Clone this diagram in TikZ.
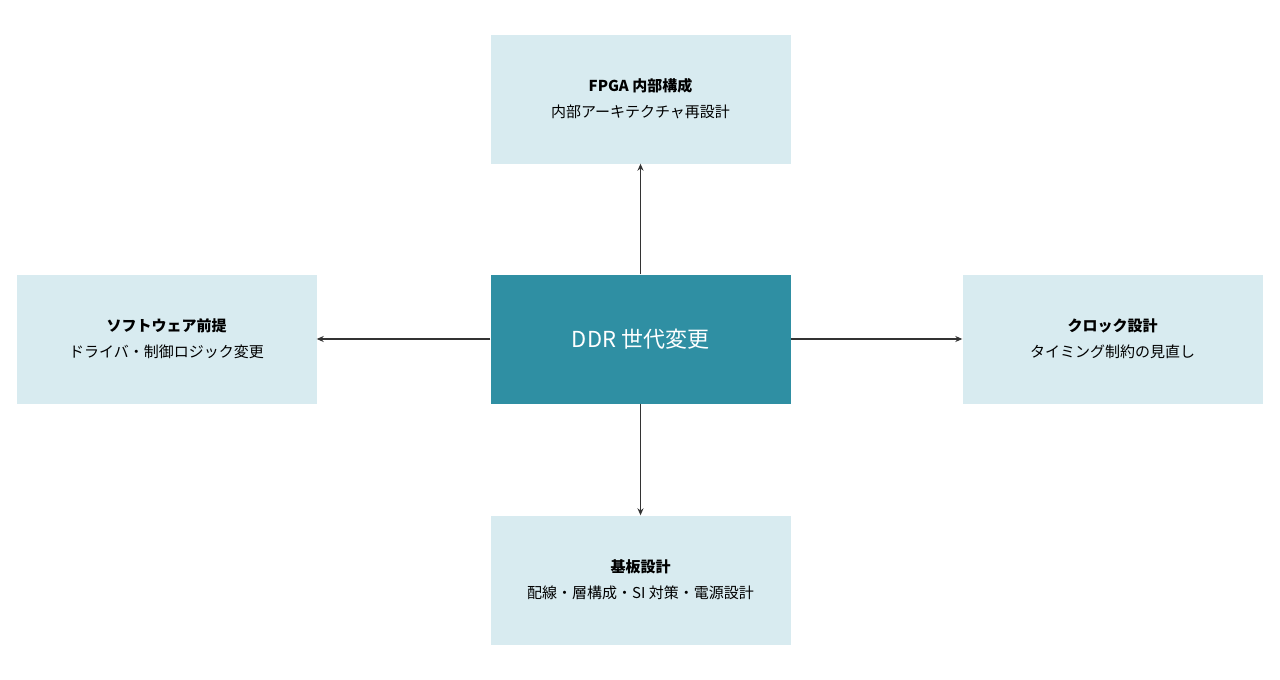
\documentclass[tikz,border=0pt]{standalone}
\usepackage{fontspec}
\setmainfont{Noto Sans CJK JP}
\usetikzlibrary{arrows.meta}
\definecolor{lightbox}{HTML}{D8EBF0}
\definecolor{mainbox}{HTML}{2F8FA3}
\definecolor{arrowc}{HTML}{333333}
\tikzset{
  x=1pt,y=-1pt,
  sub/.style={fill=lightbox,minimum width=300pt,minimum height=129pt,inner sep=0pt,align=center,font=\fontsize{15pt}{26pt}\selectfont},
  core/.style={fill=mainbox,minimum width=300pt,minimum height=129pt,inner sep=0pt,text=white,font=\fontsize{22pt}{26pt}\selectfont},
  conn/.style={draw=arrowc,line width=1.4pt,-{Stealth[length=7pt,width=6pt]}}
}
\begin{document}
\begin{tikzpicture}
\useasboundingbox (0,0) rectangle (1280,680);
\node[core] (c) at (640.5,339) {DDR 世代変更};
\node[sub] (t) at (640.5,99) {\textbf{FPGA 内部構成}\\内部アーキテクチャ再設計};
\node[sub] (l) at (166.5,339) {\textbf{ソフトウェア前提}\\ドライバ・制御ロジック変更};
\node[sub] (r) at (1112.5,339) {\textbf{クロック設計}\\タイミング制約の見直し};
\node[sub] (b) at (640.5,580) {\textbf{基板設計}\\配線・層構成・SI 対策・電源設計};
\draw[conn] (c) -- (t);
\draw[conn] (c) -- (l);
\draw[conn] (c) -- (r);
\draw[conn] (c) -- (b);
\end{tikzpicture}
\end{document}
